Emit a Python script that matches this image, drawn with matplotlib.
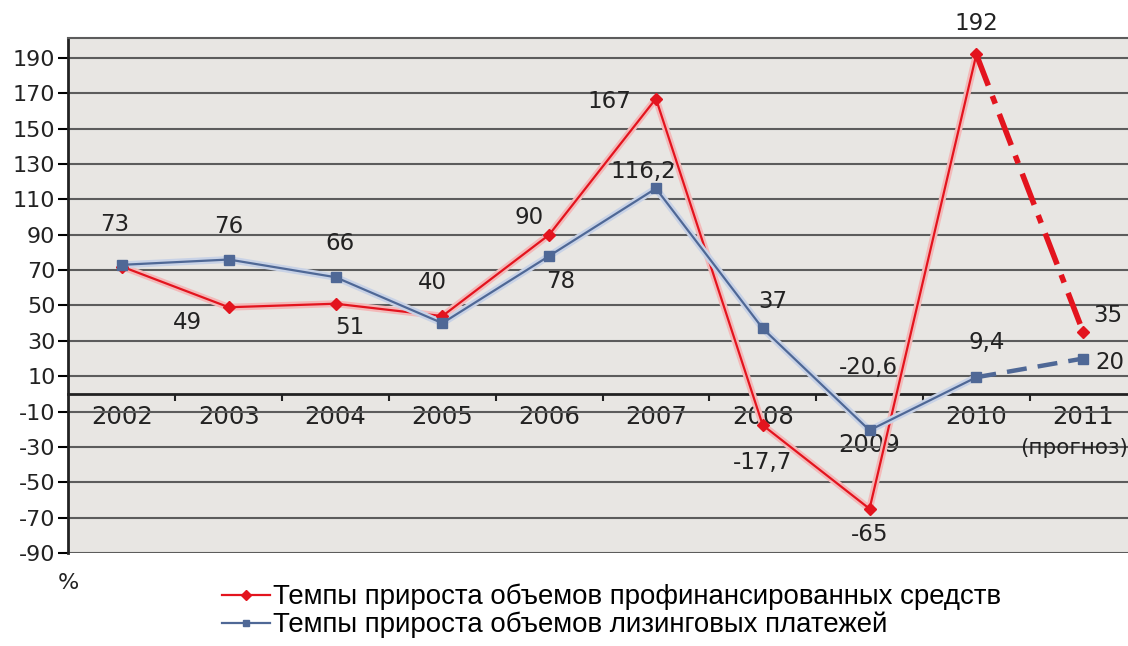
import matplotlib
matplotlib.use("Agg")
import matplotlib.pyplot as plt
import matplotlib.patheffects as pe
from matplotlib.lines import Line2D

plt.rcParams['font.family'] = ['DejaVu Sans']
plt.rcParams['axes.unicode_minus'] = False

years = ['2002', '2003', '2004', '2005', '2006', '2007', '2008', '\n2009', '2010', '2011']
forecast_note = '(прогноз)'
financed = [72, 49, 51, 44, 90, 167, -17.7, -65, 192, 35]
payments = [73, 76, 66, 40, 78, 116.2, 37, -20.6, 9.4, 20]
# which points carry a value label
financed_labeled = [False, True, True, False, True, True, True, True, True, True]
payments_labeled = [True] * 10

label_financed = 'Темпы прироста объемов профинансированных средств'
label_payments = 'Темпы прироста объемов лизинговых платежей'

y_ticks = list(range(-90, 191, 20))

RED = '#e3141e'
BLUE = '#4f6896'
INK = '#222222'

# label offsets in pixels (dx, dy)
fin_off = [None, (-41, -15), (14, -24), None, (-20, 17), (-47, -3), (0, -37), (0, -26), (0, 31), (25, 17)]
pay_off = [(-7, 40), (0, 33), (4, 34), (-10, 41), (12, -26), (-13, 17), (10, 27), (-1, 63), (10, 35), (27, -4)]


def fmt(v):
    return ('%g' % v).replace('.', ',')


def series(ax, x, y, color, halo, marker, ms, ls_last, lw_last, dashes):
    fx = pe.Stroke(linewidth=5, foreground=halo)
    ax.plot(x[:-1], y[:-1], color=color, lw=1.6, zorder=3,
            path_effects=[fx, pe.Normal()])
    # last segment is the forecast
    ax.plot(x[-2:], y[-2:], color=color, lw=lw_last, linestyle=ls_last,
            dashes=dashes, zorder=3)
    ax.plot(x, y, linestyle='none', marker=marker, ms=ms, color=color,
            markeredgecolor=color, zorder=4)


def value_labels(ax, y, labeled, offsets):
    for i, v in enumerate(y):
        if labeled[i]:
            ax.annotate(fmt(v), (i, v), xytext=offsets[i], textcoords='offset pixels',
                        ha='center', va='center', fontsize=16.5, color=INK, zorder=5)


fig = plt.figure(figsize=(11.28, 6.46), dpi=100)
ax = fig.add_axes([68 / 1128, 93 / 646, 1060 / 1128, 515 / 646])
ax.set_facecolor('#e8e6e3')

x = list(range(len(years)))
series(ax, x, financed, RED, '#f3b9b9', 'D', 6, '-.', 4, (6, 2, 1.5, 2))
series(ax, x, payments, BLUE, '#c8d2e6', 's', 6.5, '--', 3.2, (4.5, 2.5))

value_labels(ax, financed, financed_labeled, fin_off)
value_labels(ax, payments, payments_labeled, pay_off)

ax.set_xlim(-0.505, 9.42)
ax.set_ylim(-90, 201.3)
ax.set_yticks(y_ticks)
ax.set_yticklabels([str(t) for t in y_ticks])
ax.yaxis.grid(True, color='#5c5c5c', lw=1.5)
ax.set_axisbelow(True)

ax.set_xticks(x)
ax.set_xticklabels(years)
ax.set_xticks([i + 0.5 for i in x[:-1]], minor=True)
ax.tick_params(axis='x', which='major', length=0, pad=8, labelsize=17.5, labelcolor=INK)
ax.tick_params(axis='x', which='minor', length=5, width=1.5, direction='out', color=INK)
ax.tick_params(axis='y', length=7, width=1.5, pad=2, labelsize=16, labelcolor=INK)

ax.annotate(forecast_note, (x[-1], 0), xytext=(-9, -54), textcoords='offset pixels',
            ha='center', va='center', fontsize=15.5, color=INK, annotation_clip=False)

ax.spines['bottom'].set_position(('data', 0))
ax.spines['bottom'].set_linewidth(2)
ax.spines['bottom'].set_color(INK)
ax.spines['left'].set_linewidth(2)
ax.spines['left'].set_color(INK)
ax.spines['top'].set_color('#5c5c5c')
ax.spines['top'].set_linewidth(1.5)
ax.spines['right'].set_visible(False)

fig.text(68 / 1128, 1 - 583 / 646, '%', ha='center', va='center', fontsize=16, color=INK)

handles = [Line2D([], [], color=RED, lw=1.6, marker='D', ms=5),
           Line2D([], [], color=BLUE, lw=1.6, marker='s', ms=5)]
fig.legend(handles, [label_financed, label_payments], loc='upper left',
           bbox_to_anchor=(222 / 1128, 1 - 584 / 646), frameon=False,
           prop={'family': 'Liberation Sans', 'size': 19.9},
           handlelength=1.75, handletextpad=0.1, labelspacing=0.05, borderpad=0,
           borderaxespad=0)

fig.savefig('out.png', dpi=100, facecolor='white')
